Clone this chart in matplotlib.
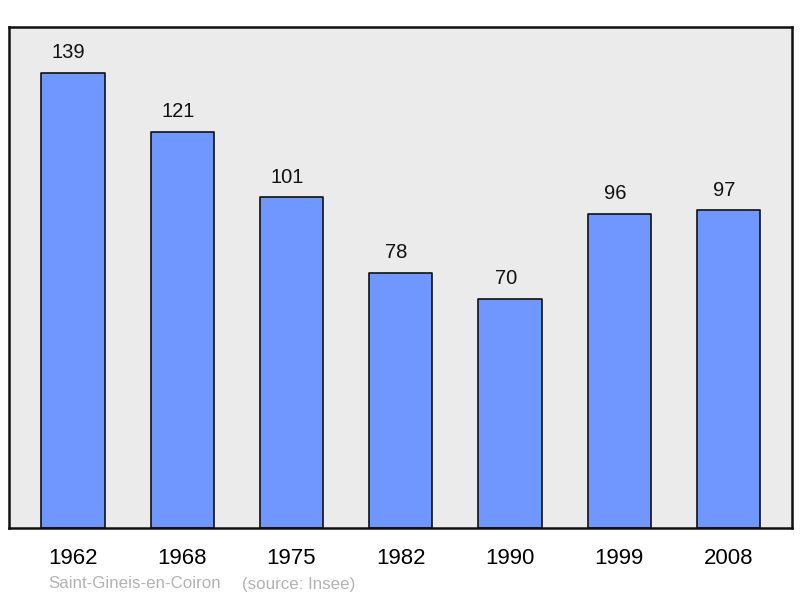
import matplotlib.pyplot as plt
import numpy as np

plt.rcParams['font.family'] = ['Liberation Sans', 'DejaVu Sans']

# Données
annees = ['1962', '1968', '1975', '1982', '1990', '1999', '2008']
population = [139, 121, 101, 78, 70, 96, 97]
commune = "Saint-Gineis-en-Coiron"
source = "(source: Insee)"

fig = plt.figure(figsize=(8, 5.98), dpi=100)
ax = fig.add_axes([9/800, 70/598, 783/800, 501/598])
ax.set_facecolor('#ebebeb')

x = np.arange(len(annees))
barres = ax.bar(x, population, width=0.58, color='#7096ff', edgecolor='#111111', linewidth=1.2, zorder=2)
for b in barres:
    b.set_joinstyle('round')

for xi, v in zip(x, population):
    ax.text(xi - 0.04, v + 6.1, str(v), ha='center', va='center', fontsize=14.5, color='#111111')

ax.set_xlim(-0.585, 6.58)
ax.set_ylim(0, 153)
ax.set_xticks(x)
ax.set_xticklabels(annees, fontsize=16)
ax.tick_params(axis='x', length=0, pad=14.5)
ax.set_yticks([])
for s in ax.spines.values():
    s.set_linewidth(1.8)
    s.set_color('#111111')

fig.text(48/800, 1 - 584/598, commune, fontsize=12.2, color='#b3b3b3', va='center')
fig.text(242/800, 1 - 584/598, source, fontsize=12.2, color='#b3b3b3', va='center')

fig.savefig('out.png', dpi=100)
